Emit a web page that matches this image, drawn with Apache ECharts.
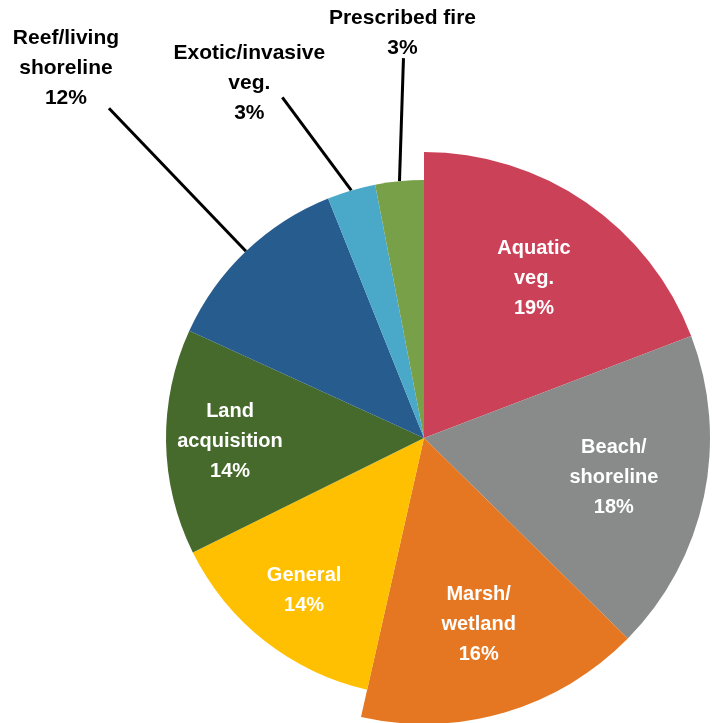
<!DOCTYPE html>
<html>
<head>
<meta charset="utf-8">
<title>Projects by type</title>
<script src="https://cdn.jsdelivr.net/npm/echarts@6/dist/echarts.min.js"></script>
<style>
  html, body { margin: 0; padding: 0; background: #fff; }
  #chart { width: 715px; height: 723px; }
</style>
</head>
<body>
<div id="chart"></div>
<script>
// slice names (line breaks as on the labels) and their shares in %
const categories = [
  'Aquatic\nveg.',
  'Beach/\nshoreline',
  'Marsh/\nwetland',
  'General',
  'Land\nacquisition',
  'Reef/living\nshoreline',
  'Exotic/invasive\nveg.',
  'Prescribed fire'
]
const shares = [19, 18, 16, 14, 14, 12, 3, 3]
const colors = ['#cb4157', '#888b8a', '#e57722', '#fec000', '#466a2b', '#275c8f', '#4aa8c9', '#77a048']

const center = [424, 438]
const BIG = 3 // the first three slices stick out a bit further
const OUTSIDE = 5 // from here on the labels sit outside with a leader line
// leader line end relative to the slice edge, text centre relative to that end
const leaders = {
  5: { line: [-137, -143], text: [-43, -40] },
  6: { line: [-69, -93], text: [-33, -14] },
  7: { line: [4, -123], text: [-1, -25] }
}
const FONT = '"Liberation Sans", Arial, sans-serif'

function makeData(visible) {
  return categories.map(function (name, i) {
    return {
      name: name,
      value: shares[i],
      itemStyle: { color: visible(i) ? colors[i] : 'rgba(0,0,0,0)' }
    }
  })
}

function labelText(p) {
  return p.name + '\n' + p.value + '%'
}

const chart = echarts.init(document.getElementById('chart'))

chart.setOption({
  animation: false,
  backgroundColor: '#fff',
  series: [
    {
      // larger slices
      type: 'pie',
      center: center,
      radius: 286,
      startAngle: 90,
      clockwise: true,
      silent: true,
      avoidLabelOverlap: false,
      itemStyle: { borderWidth: 0 },
      label: { show: false },
      labelLine: { show: false },
      data: makeData(function (i) { return i < BIG })
    },
    {
      // the rest, with the outside labels
      type: 'pie',
      center: center,
      radius: 258,
      startAngle: 90,
      clockwise: true,
      silent: true,
      avoidLabelOverlap: false,
      itemStyle: { borderWidth: 0 },
      label: {
        position: 'outside',
        formatter: labelText,
        color: '#000',
        fontFamily: FONT,
        fontWeight: 'bold',
        fontSize: 21,
        lineHeight: 30
      },
      labelLine: {
        length: 40,
        length2: 0,
        lineStyle: { color: '#000', width: 3 }
      },
      labelLayout: function (params) {
        const lead = leaders[params.dataIndex]
        if (!lead || !params.labelLinePoints) return {}
        const start = params.labelLinePoints[0]
        const end = [start[0] + lead.line[0], start[1] + lead.line[1]]
        return {
          x: end[0] + lead.text[0],
          y: end[1] + lead.text[1],
          align: 'center',
          verticalAlign: 'middle',
          labelLinePoints: [start, end]
        }
      },
      data: makeData(function (i) { return i >= BIG }).map(function (d, i) {
        d.label = { show: i >= OUTSIDE }
        d.labelLine = { show: i >= OUTSIDE }
        return d
      })
    },
    {
      // carrier for the labels inside the slices
      type: 'pie',
      center: center,
      radius: [124, 258],
      startAngle: 90,
      clockwise: true,
      silent: true,
      avoidLabelOverlap: false,
      itemStyle: { borderWidth: 0 },
      label: {
        position: 'inside',
        formatter: labelText,
        color: '#fff',
        fontFamily: FONT,
        fontWeight: 'bold',
        fontSize: 20,
        lineHeight: 30
      },
      labelLine: { show: false },
      data: makeData(function () { return false }).map(function (d, i) {
        d.label = { show: i < OUTSIDE }
        return d
      })
    }
  ]
})
</script>
</body>
</html>
